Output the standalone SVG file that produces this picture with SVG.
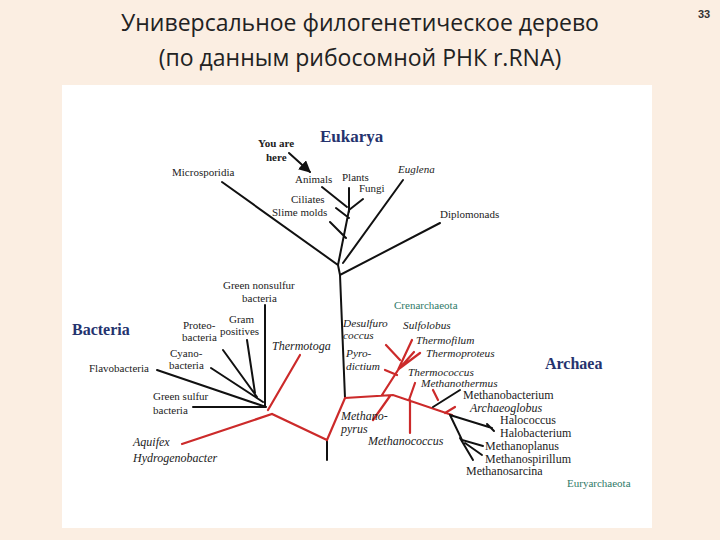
<svg xmlns="http://www.w3.org/2000/svg" width="720" height="540" viewBox="0 0 720 540">
<defs>
<style>
.t{font-family:"Liberation Serif",serif;font-size:11px;fill:#222}
.a{font-size:12px}
.c{font-size:11.3px}
.i{font-style:italic}
.big{font-family:"Liberation Serif",serif;font-weight:bold;fill:#25336e}
.g{font-family:"Liberation Serif",serif;font-size:11px;fill:#2f7a68}
.k{stroke:#111;stroke-width:2;fill:none;stroke-linecap:round}
.r{stroke:#cc2a2a;stroke-width:2.2;fill:none;stroke-linecap:round}
.h{font-family:"Open Sans","Noto Sans",sans-serif;font-size:23px;fill:#222;text-anchor:middle}
</style>
<marker id="ar" viewBox="0 0 10 10" refX="9" refY="5" markerWidth="6" markerHeight="6" orient="auto"><path d="M0,0L10,5L0,10z" fill="#111"/></marker>
</defs>
<rect width="720" height="540" fill="#fbeee2"/>
<text class="h" x="360" y="31">Универсальное филогенетическое дерево</text>
<text class="h" x="360" y="66">(по данным рибосомной РНК r.RNA)</text>
<text x="704" y="18" font-family="Liberation Sans,sans-serif" font-size="11" font-weight="bold" fill="#333" text-anchor="middle">33</text>
<rect x="62" y="85" width="590" height="443" fill="#fff"/>
<g id="connectors">
<path class="k" d="M222,182L338,265L349,210M349,188V212M363,199L349,210M322,187L347,207M336,208L349,218M330,222L346,238M403,180L343,263M338,265L340,275L440,223M340,275L345,398"/>
<path class="k" d="M289,153L310,172" marker-end="url(#ar)"/>
<path class="k" d="M265,305V407M247,340L255,393M223,350L257,397M211,368L263,402M157,370L266,407M193,407H266M327,440V460"/>
<path class="r" d="M300,355L268,410M182,444L272,414L327,440L345,398L393,395L452,415M382,395L398,370L412,340M386,345L400,360M385,370L397,375M414,352L398,370M420,353L400,368M390,396L373,420M415,383L409,400M410,400V433M433,390L438,400M455,407L445,413"/>
<path class="k" d="M460,390L433,407M450,415L492,428M487,424L494,431M450,415L462,440L483,446M465,443L482,455M460,438L473,460"/>
</g>
<g id="titles">
<text class="big" x="320" y="142" font-size="17">Eukarya</text>
<text class="big" x="72" y="335" font-size="16">Bacteria</text>
<text class="big" x="545" y="369" font-size="16">Archaea</text>
<text class="g" x="394" y="309">Crenarchaeota</text>
<text class="g" x="567" y="487">Euryarchaeota</text>
</g>
<g id="eukarya">
<text class="t" x="258" y="147" font-weight="bold">You are</text>
<text class="t" x="266" y="161" font-weight="bold">here</text>
<text class="t" x="172" y="176">Microsporidia</text>
<text class="t" x="295" y="183">Animals</text>
<text class="t" x="342" y="181">Plants</text>
<text class="t" x="359" y="192">Fungi</text>
<text class="t i" x="398" y="173">Euglena</text>
<text class="t" x="291" y="203">Ciliates</text>
<text class="t" x="272" y="216">Slime molds</text>
<text class="t" x="440" y="218">Diplomonads</text>
</g>
<g id="bacteria">
<text class="t" x="223" y="289">Green nonsulfur</text>
<text class="t" x="242" y="302">bacteria</text>
<text class="t" x="229" y="323">Gram</text>
<text class="t" x="220" y="335">positives</text>
<text class="t" x="183" y="329">Proteo-</text>
<text class="t" x="182" y="341">bacteria</text>
<text class="t" x="170" y="357">Cyano-</text>
<text class="t" x="169" y="369">bacteria</text>
<text class="t" x="89" y="372">Flavobacteria</text>
<text class="t" x="153" y="400">Green sulfur</text>
<text class="t" x="153" y="414">bacteria</text>
<text class="t i a" x="272" y="350">Thermotoga</text>
<text class="t i a" x="133" y="446">Aquifex</text>
<text class="t i a" x="133" y="462">Hydrogenobacter</text>
</g>
<g id="archaea">
<text class="t i c" x="343" y="327">Desulfuro</text>
<text class="t i c" x="343" y="339">coccus</text>
<text class="t i c" x="346" y="357">Pyro-</text>
<text class="t i c" x="346" y="370">dictium</text>
<text class="t i c" x="403" y="329">Sulfolobus</text>
<text class="t i c" x="416" y="344">Thermofilum</text>
<text class="t i c" x="426" y="357">Thermoproteus</text>
<text class="t i c" x="408" y="376">Thermococcus</text>
<text class="t i c" x="421" y="387">Methanothermus</text>
<text class="t a" x="463" y="399">Methanobacterium</text>
<text class="t i a" x="470" y="412">Archaeoglobus</text>
<text class="t a" x="500" y="424">Halococcus</text>
<text class="t a" x="500" y="437">Halobacterium</text>
<text class="t a" x="485" y="450">Methanoplanus</text>
<text class="t a" x="485" y="463">Methanospirillum</text>
<text class="t a" x="466" y="475">Methanosarcina</text>
<text class="t i a" x="341" y="420">Methano-</text>
<text class="t i a" x="341" y="433">pyrus</text>
<text class="t i a" x="368" y="445">Methanococcus</text>
</g>
</svg>
